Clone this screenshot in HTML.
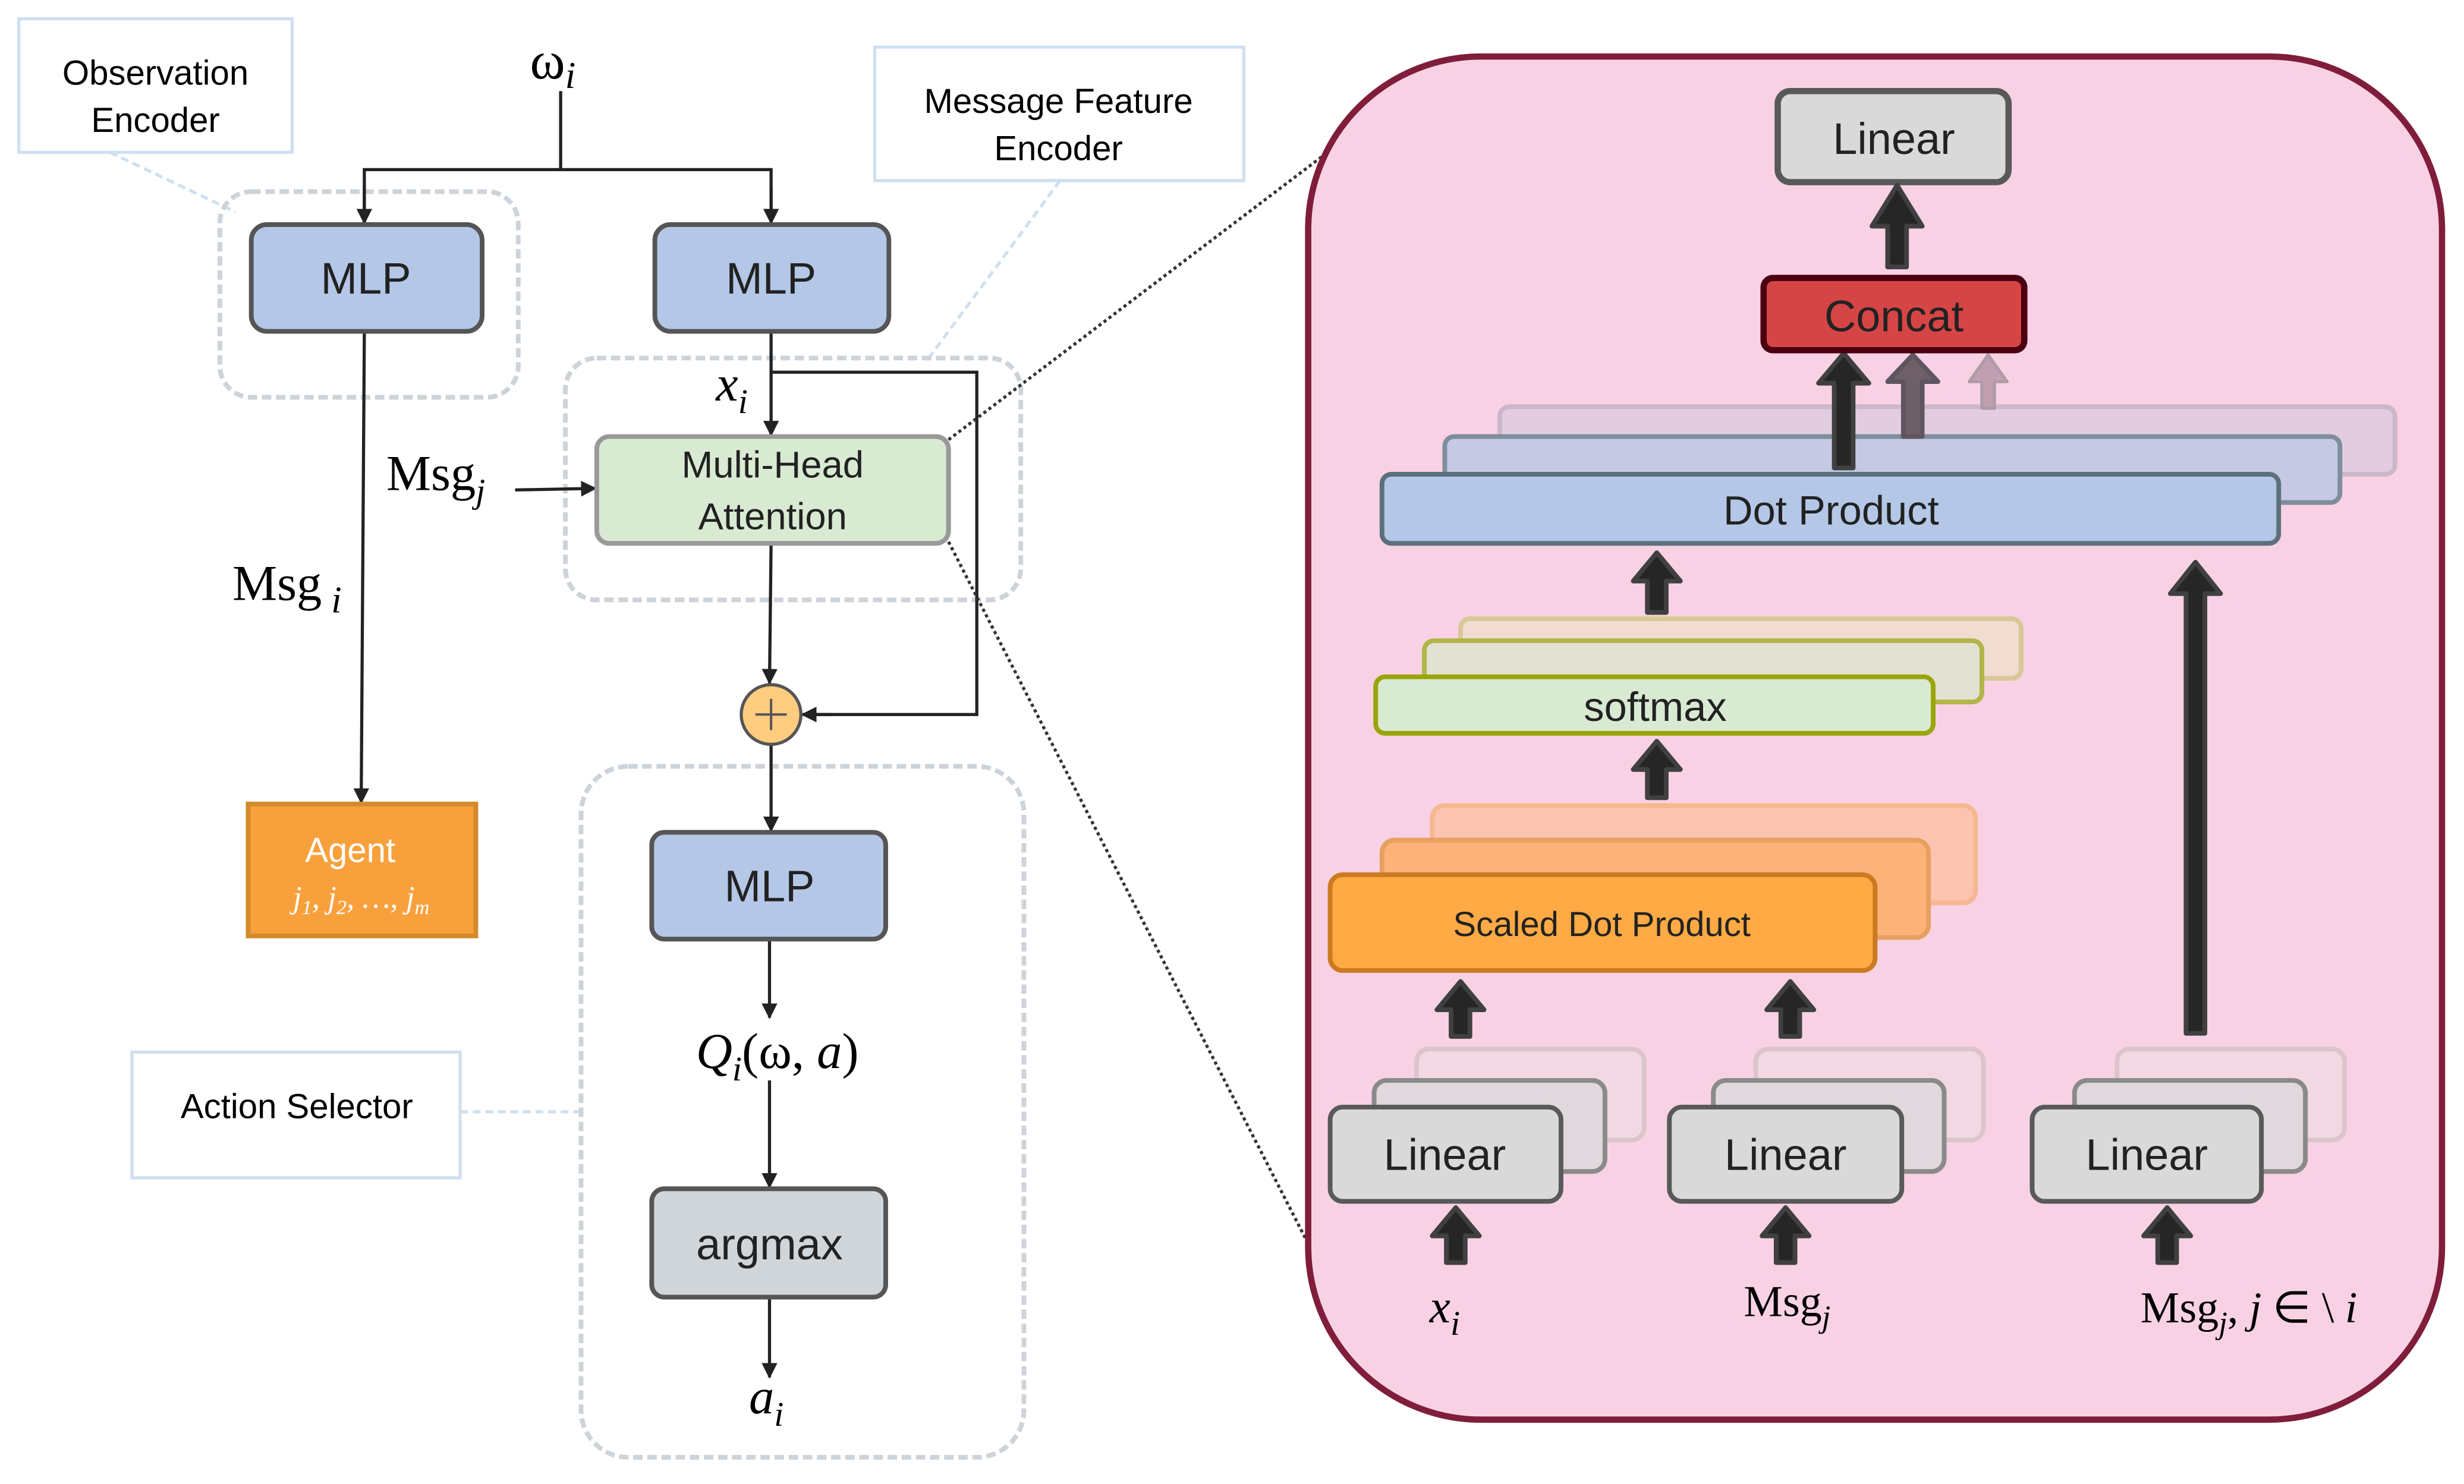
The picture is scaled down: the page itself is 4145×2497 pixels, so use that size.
<!DOCTYPE html>
<html><head><meta charset="utf-8"><style>html,body{margin:0;padding:0;background:#fff}svg{display:block}</style></head>
<body>
<svg width="4145" height="2497" viewBox="0 0 1569 945" preserveAspectRatio="none" xmlns="http://www.w3.org/2000/svg" font-family="'Liberation Sans', sans-serif">
<defs>
<marker id="ah" markerWidth="10" markerHeight="10" refX="9" refY="5" orient="auto" markerUnits="userSpaceOnUse"><path d="M0,0 L10,5 L0,10 Z" fill="#222"/></marker>
</defs>
<rect width="1569" height="945" fill="#fff"/>
<rect x="12" y="12" width="174" height="85" fill="#fff" stroke="#cfe0f0" stroke-width="2"/>
<text x="99" y="54" font-size="22" text-anchor="middle">Observation</text>
<text x="99" y="84" font-size="22" text-anchor="middle">Encoder</text>
<line x1="70" y1="97" x2="150" y2="135" stroke="#cfe0f0" stroke-width="2" stroke-dasharray="5,3"/>
<rect x="557" y="30" width="235" height="85" fill="#fff" stroke="#cfe0f0" stroke-width="2"/>
<text x="674" y="72" font-size="22" text-anchor="middle">Message Feature</text>
<text x="674" y="102" font-size="22" text-anchor="middle">Encoder</text>
<line x1="675" y1="115" x2="590" y2="230" stroke="#cfe0f0" stroke-width="2" stroke-dasharray="5,3"/>
<rect x="84" y="670" width="209" height="80" fill="#fff" stroke="#cfe0f0" stroke-width="2"/>
<text x="189" y="712" font-size="22" text-anchor="middle">Action Selector</text>
<line x1="293" y1="708" x2="370" y2="708" stroke="#cfe0f0" stroke-width="2" stroke-dasharray="5,3"/>
<rect x="140" y="122" width="190" height="131" rx="20" fill="none" stroke="#cdd3d8" stroke-width="3" stroke-dasharray="6,3"/>
<rect x="360" y="228" width="290" height="154" rx="20" fill="none" stroke="#cdd3d8" stroke-width="3" stroke-dasharray="6,3"/>
<rect x="370" y="488" width="282" height="440" rx="30" fill="none" stroke="#cdd3d8" stroke-width="3" stroke-dasharray="6,3"/>
<text x="352" y="50" font-size="34" font-family="'Liberation Serif', serif" text-anchor="middle">ω<tspan font-style="italic" font-size="24" dy="6">i</tspan></text>
<g stroke="#222" stroke-width="2" fill="none">
<polyline points="357,58 357,108"/>
<polyline points="232,142 232,108 491,108 491,142"/>
<line x1="232" y1="120" x2="232" y2="142" marker-end="url(#ah)"/>
<line x1="491" y1="120" x2="491" y2="142" marker-end="url(#ah)"/>
<line x1="232" y1="211" x2="230" y2="511" marker-end="url(#ah)"/>
<line x1="491" y1="211" x2="491" y2="277" marker-end="url(#ah)"/>
<polyline points="491,237 622,237 622,455 512,455"/>
<line x1="530" y1="455" x2="511" y2="455" marker-end="url(#ah)"/>
<line x1="328" y1="312" x2="379" y2="311" marker-end="url(#ah)"/>
<line x1="491" y1="346" x2="490" y2="435" marker-end="url(#ah)"/>
<line x1="491" y1="474" x2="491" y2="529" marker-end="url(#ah)"/>
<line x1="490" y1="598" x2="490" y2="648" marker-end="url(#ah)"/>
<line x1="490" y1="688" x2="490" y2="756" marker-end="url(#ah)"/>
<line x1="490" y1="826" x2="490" y2="877" marker-end="url(#ah)"/>
</g>
<rect x="160" y="143" width="147" height="68" rx="10" fill="#b4c7e7" stroke="#555" stroke-width="3"/>
<text x="233" y="187" font-size="28" text-anchor="middle" fill="#222">MLP</text>
<rect x="417" y="143" width="149" height="68" rx="10" fill="#b4c7e7" stroke="#555" stroke-width="3"/>
<text x="491" y="187" font-size="28" text-anchor="middle" fill="#222">MLP</text>
<text x="466" y="255" font-size="32" font-family="'Liberation Serif', serif" font-style="italic" text-anchor="middle">x<tspan font-size="22" dy="8">i</tspan></text>
<rect x="380" y="278" width="224" height="68" rx="8" fill="#d9ead3" stroke="#999" stroke-width="3"/>
<text x="492" y="304" font-size="24" text-anchor="middle" fill="#222">Multi-Head</text>
<text x="492" y="337" font-size="24" text-anchor="middle" fill="#222">Attention</text>
<text x="246" y="312" font-size="32" font-family="'Liberation Serif', serif">Msg<tspan font-style="italic" font-size="22" dy="8">j</tspan></text>
<text x="148" y="382" font-size="32" font-family="'Liberation Serif', serif">Msg<tspan font-style="italic" font-size="24" dy="8" dx="6">i</tspan></text>
<circle cx="491" cy="455" r="19" fill="#ffcc80" stroke="#555" stroke-width="2"/>
<line x1="481" y1="455" x2="501" y2="455" stroke="#555" stroke-width="1.5"/><line x1="491" y1="445" x2="491" y2="465" stroke="#555" stroke-width="1.5"/>
<rect x="158" y="512" width="145" height="84" fill="#f8a13c" stroke="#d48a2a" stroke-width="3"/>
<text x="223" y="549" font-size="22" text-anchor="middle" fill="#fff">Agent</text>
<text x="230" y="578" font-size="20" text-anchor="middle" fill="#fff" font-family="'Liberation Serif', serif" font-style="italic">j<tspan font-size="13" dy="4">1</tspan><tspan dy="-4">, j</tspan><tspan font-size="13" dy="4">2</tspan><tspan dy="-4">, …, j</tspan><tspan font-size="13" dy="4">m</tspan></text>
<rect x="415" y="530" width="149" height="68" rx="8" fill="#b4c7e7" stroke="#555" stroke-width="3"/>
<text x="490" y="574" font-size="28" text-anchor="middle" fill="#222">MLP</text>
<text x="495" y="680" font-size="32" font-family="'Liberation Serif', serif" font-style="italic" text-anchor="middle">Q<tspan font-size="22" dy="8">i</tspan><tspan dy="-8" font-style="normal">(ω, </tspan>a<tspan font-style="normal">)</tspan></text>
<rect x="415" y="757" width="149" height="69" rx="8" fill="#d0d5da" stroke="#555" stroke-width="3"/>
<text x="490" y="802" font-size="28" text-anchor="middle" fill="#222">argmax</text>
<text x="488" y="900" font-size="32" font-family="'Liberation Serif', serif" font-style="italic" text-anchor="middle">a<tspan font-size="22" dy="8">i</tspan></text>
<line x1="604" y1="280" x2="848" y2="95" stroke="#333" stroke-width="2" stroke-dasharray="2,2"/>
<line x1="604" y1="345" x2="832" y2="790" stroke="#333" stroke-width="2" stroke-dasharray="2,2"/>
<rect x="833" y="36" width="722" height="868" rx="110" fill="#f8d2e4" stroke="#7f1d3a" stroke-width="4"/>
<rect x="1132" y="58" width="147" height="58" rx="8" fill="#d9d9d9" stroke="#595959" stroke-width="4"/>
<text x="1206" y="98" font-size="28" text-anchor="middle" fill="#222">Linear</text>
<g stroke="#404040" stroke-width="3" stroke-linejoin="round">
<polygon points="1202,170 1202,144 1192,144 1208,118 1224,144 1214,144 1214,170" fill="#262626"/>
</g>
<rect x="955" y="259" width="570" height="43" rx="6" fill="#e0cde0" stroke="#c8b4c8" stroke-width="3" opacity="0.9"/>
<rect x="920" y="278" width="570" height="42" rx="6" fill="#c5c9e3" stroke="#7f8e9c" stroke-width="3"/>
<g stroke-linejoin="round">
<polygon points="1262,260 1262,243 1254,243 1266,226 1278,243 1270,243 1270,260" fill="#c0a0b0" stroke="#b09aa8" stroke-width="2"/>
<polygon points="1212,278 1212,243 1202,243 1218,226 1234,243 1224,243 1224,278" fill="#6e5f68" stroke="#5f5560" stroke-width="3"/>
<polygon points="1168,298 1168,244 1158,244 1174,225 1190,244 1180,244 1180,298" fill="#262626" stroke="#404040" stroke-width="3"/>
</g>
<rect x="1123" y="177" width="166" height="46" rx="6" fill="#d64545" stroke="#4a0010" stroke-width="4"/>
<text x="1206" y="211" font-size="28" text-anchor="middle" fill="#222">Concat</text>
<rect x="880" y="302" width="571" height="44" rx="6" fill="#b4c7e7" stroke="#5b6f7c" stroke-width="3"/>
<text x="1166" y="334" font-size="26" text-anchor="middle" fill="#222">Dot Product</text>
<rect x="930" y="394" width="357" height="38" rx="6" fill="#f0dcd0" stroke="#d8c898" stroke-width="3"/>
<rect x="907" y="408" width="355" height="39" rx="6" fill="#e2e2d2" stroke="#b0b648" stroke-width="3"/>
<rect x="876" y="431" width="355" height="36" rx="6" fill="#d9ead3" stroke="#9aa50a" stroke-width="3"/>
<text x="1054" y="459" font-size="26" text-anchor="middle" fill="#222">softmax</text>
<rect x="912" y="513" width="346" height="62" rx="8" fill="#fbc4b0" stroke="#f5b890" stroke-width="3"/>
<rect x="880" y="535" width="348" height="62" rx="8" fill="#fdb27a" stroke="#e8a060" stroke-width="3"/>
<rect x="847" y="557" width="347" height="61" rx="8" fill="#ffaa44" stroke="#cc7a20" stroke-width="3"/>
<text x="1020" y="596" font-size="22" text-anchor="middle" fill="#222">Scaled Dot Product</text>
<g>
<rect x="902" y="668" width="145" height="58" rx="8" fill="#f2d8e2" stroke="#dcc4cc" stroke-width="3"/>
<rect x="875" y="688" width="147" height="58" rx="8" fill="#e0d8dc" stroke="#8a8a8a" stroke-width="3"/>
<rect x="847" y="705" width="147" height="60" rx="8" fill="#d9d9d9" stroke="#595959" stroke-width="3"/>
<text x="920" y="745" font-size="28" text-anchor="middle" fill="#222">Linear</text>
<rect x="1118" y="668" width="145" height="58" rx="8" fill="#f2d8e2" stroke="#dcc4cc" stroke-width="3"/>
<rect x="1091" y="688" width="147" height="58" rx="8" fill="#e0d8dc" stroke="#8a8a8a" stroke-width="3"/>
<rect x="1063" y="705" width="148" height="60" rx="8" fill="#d9d9d9" stroke="#595959" stroke-width="3"/>
<text x="1137" y="745" font-size="28" text-anchor="middle" fill="#222">Linear</text>
<rect x="1348" y="668" width="145" height="58" rx="8" fill="#f2d8e2" stroke="#dcc4cc" stroke-width="3"/>
<rect x="1321" y="688" width="147" height="58" rx="8" fill="#e0d8dc" stroke="#8a8a8a" stroke-width="3"/>
<rect x="1294" y="705" width="146" height="60" rx="8" fill="#d9d9d9" stroke="#595959" stroke-width="3"/>
<text x="1367" y="745" font-size="28" text-anchor="middle" fill="#222">Linear</text>
</g>
<g fill="#262626" stroke="#404040" stroke-width="3" stroke-linejoin="round">
<polygon points="1049,390 1049,370 1040,370 1055,352 1070,370 1061,370 1061,390"/>
<polygon points="1049,508 1049,490 1040,490 1055,472 1070,490 1061,490 1061,508"/>
<polygon points="924,660 924,643 915,643 930,625 945,643 936,643 936,660"/>
<polygon points="1134,660 1134,643 1125,643 1140,625 1155,643 1146,643 1146,660"/>
<polygon points="1392,658 1392,378 1382,378 1398,358 1414,378 1404,378 1404,658"/>
<polygon points="921,804 921,787 912,787 927,769 942,787 933,787 933,804"/>
<polygon points="1131,804 1131,787 1122,787 1137,769 1152,787 1143,787 1143,804"/>
<polygon points="1374,804 1374,787 1365,787 1380,769 1395,787 1386,787 1386,804"/>
</g>
<text x="920" y="842" font-size="30" font-family="'Liberation Serif', serif" font-style="italic" text-anchor="middle">x<tspan font-size="22" dy="8">i</tspan></text>
<text x="1138" y="838" font-size="28" font-family="'Liberation Serif', serif" text-anchor="middle">Msg<tspan font-style="italic" font-size="20" dy="7">j</tspan></text>
<text x="1432" y="842" font-size="28" font-family="'Liberation Serif', serif" text-anchor="middle">Msg<tspan font-style="italic" font-size="20" dy="7">j</tspan><tspan dy="-7">, </tspan><tspan font-style="italic">j</tspan> ∈  \ <tspan font-style="italic">i</tspan></text>
</svg>
</body></html>
